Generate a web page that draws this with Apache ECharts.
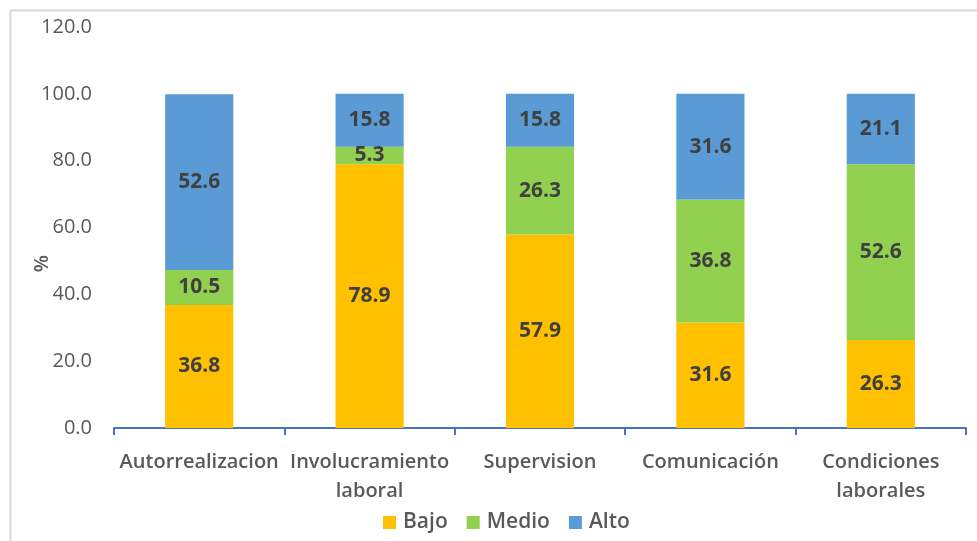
<!DOCTYPE html>
<html>
<head>
<meta charset="utf-8">
<script src="https://cdn.jsdelivr.net/npm/echarts@6/dist/echarts.min.js"></script>
<style>html,body{margin:0;padding:0;background:#fff;}#c{width:977px;height:541px;}</style>
</head>
<body>
<div id="c"></div>
<script>
const categories = ["Autorrealizacion", "Involucramiento\nlaboral", "Supervision", "Comunicación", "Condiciones\nlaborales"];
const bajo = [36.8, 78.9, 57.9, 31.6, 26.3];
const medio = [10.5, 5.3, 26.3, 36.8, 52.6];
const alto = [52.6, 15.8, 15.8, 31.6, 21.1];
const seriesNames = ["Bajo", "Medio", "Alto"];
const colors = ["#FFC000", "#92D050", "#5B9BD5"];

const FONT = "Open Sans";
const chart = echarts.init(document.getElementById('c'));
const label = {
  show: true, position: 'inside', fontFamily: FONT, fontSize: 21, fontWeight: 'bold',
  color: '#404040', formatter: p => p.value.toFixed(1)
};
function mk(name, data, i) {
  return { name, type: 'bar', stack: 'a', data, barWidth: '40%', itemStyle: { color: colors[i] }, label };
}
chart.setOption({
  animation: false,
  textStyle: { fontFamily: FONT },
  graphic: [
    { type: 'line', shape: { x1: 10.5, y1: 10, x2: 10.5, y2: 541 }, style: { stroke: '#d9d9d9', lineWidth: 2 } },
    { type: 'line', shape: { x1: 10, y1: 10.5, x2: 977, y2: 10.5 }, style: { stroke: '#d9d9d9', lineWidth: 2 } }
  ],
  grid: { left: 114, right: 11, top: 27, bottom: 113, containLabel: false },
  legend: {
    data: seriesNames, bottom: 3, left: 378, itemWidth: 13, itemHeight: 13, itemGap: 19,
    icon: 'rect', textStyle: { fontFamily: FONT, fontSize: 21, fontWeight: 600, color: '#595959', padding: [0, 0, 0, 2] }
  },
  xAxis: {
    type: 'category', data: categories,
    axisLine: { lineStyle: { color: '#4472C4', width: 2 } },
    axisTick: { show: true, length: 7, lineStyle: { color: '#4472C4', width: 2 } },
    axisLabel: { fontFamily: FONT, fontSize: 20, color: '#595959', margin: 20, interval: 0, lineHeight: 29, fontWeight: 600 }
  },
  yAxis: {
    type: 'value', min: 0, max: 120, interval: 20,
    name: '%', nameLocation: 'middle', nameGap: 62, nameRotate: 90, nameMoveOverlap: false,
    nameTextStyle: { fontFamily: FONT, fontSize: 20, fontWeight: 600, color: '#595959', padding: [0, 72, 0, 0] },
    axisLine: { show: false }, axisTick: { show: false }, splitLine: { show: false },
    axisLabel: { fontFamily: FONT, fontSize: 20, color: '#595959', margin: 22, formatter: v => v.toFixed(1) }
  },
  series: [mk(seriesNames[0], bajo, 0), mk(seriesNames[1], medio, 1), mk(seriesNames[2], alto, 2)]
});
</script>
</body>
</html>
